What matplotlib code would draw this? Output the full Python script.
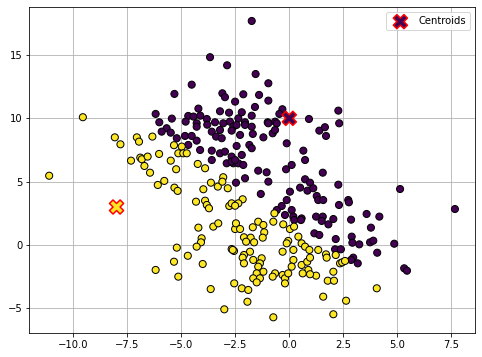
import numpy as np
import matplotlib
matplotlib.use('Agg')
import matplotlib.pyplot as plt

# cluster 0 (purple)
x_c0 = [-3.67, -2.88, -4.52, -5.32, -3.10, -2.98, -2.51, -6.19, -4.21, -3.21, -2.79, -5.44, -4.68, -4.44,
        -4.12, -3.82, -6.02, -4.80, -4.29, -3.44, -2.75,
        -1.74, -1.56, -0.97, -2.13, -1.40, -0.97, -1.59, -2.20, -1.74, -0.32, -0.46, 0.91, -2.36, -2.05,
        -1.00, -0.66,
        -5.68, -5.91, -5.49, -5.21, -4.83, -4.52, -4.29, -4.68, -4.29, -4.13, -3.80, -3.59, -3.21, -3.39,
        -3.06, -3.13, -3.59, -3.21, -2.98, -2.67, -3.59, -2.90, -2.59, -2.59,
        -2.67, -2.28, -2.44, -2.05, -1.74, -1.69, -1.20, -0.97, -0.58, -0.77, -0.66, 1.39, 1.65, 1.70,
        -0.12, -2.44, -1.85, -1.74, 0.65, -2.20, -2.67, -2.36, -2.13, -2.51, 0.73, 0.11, -0.15, 1.55,
        -1.44, -1.05, -2.05, -0.97, -2.47, 0.73, 0.96, 0.50, 0.84, 1.11, 0.03, -1.32, 1.27, 1.34, 1.57,
        -0.12, -0.35, -0.58, 0.11, 0.19, 0.57, 1.24, 1.55,
        -0.20, 0.23, 0.54, 1.50, 1.81, 1.16, 1.39,
        2.27, 2.31, 2.27, 5.13, 2.73,
        2.30, 2.76, 7.67, 2.04, 2.86, 3.58, 4.17, 3.78, 2.15, 2.89, 2.92, 3.24, 3.74, 3.89, 4.86, 2.12,
        2.39, 4.07, 2.96, 2.86, 3.17, 5.32, 5.45]
y_c0 = [14.83, 14.19, 12.66, 11.93, 11.98, 11.67, 11.32, 10.35, 10.77, 10.56, 10.45, 9.98, 10.19, 10.14,
        10.21, 9.95, 9.69, 9.74, 9.61, 9.69, 9.74,
        17.69, 13.50, 12.77, 11.90, 11.85, 11.40, 10.90, 10.48, 10.21, 10.72, 10.35, 9.95, 10.00, 9.69,
        9.69, 9.74,
        9.22, 8.95, 8.87, 8.43, 8.61, 8.61, 9.34, 7.90, 8.24, 7.50, 9.50, 8.95, 9.08, 8.56,
        9.61, 8.43, 7.45, 7.24, 7.37, 6.98, 6.71, 6.45, 6.45, 9.34,
        9.03, 8.69, 9.48, 9.48, 9.34, 8.77, 8.50, 9.61, 9.61, 8.82, 9.08, 9.03, 9.30, 8.61,
        8.03, 7.82, 7.90, 7.64, 7.45, 7.11, 6.58, 6.45, 6.32, 6.71, 6.71, 6.32, 5.98, 5.71,
        5.87, 5.74, 5.27, 5.00, 4.92, 5.19, 4.92, 4.53, 4.29, 4.48, 4.21, 4.03, 3.87, 3.55, 3.55,
        3.55, 3.08, 2.76, 2.76, 2.24, 2.10, 2.24, 2.24,
        2.37, 1.97, 1.97, 1.90, 1.63, 0.92, 0.79,
        10.61, 9.61, 4.76, 4.42, 3.55,
        3.16, 3.37, 2.84, 2.05, 2.00, 2.45, 2.24, 1.37, 0.47, 0.66, 0.18, 0.05, 0.21, 0.34, 0.10, -0.34,
        -0.34, -0.61, -1.00, -1.18, -1.45, -1.84, -2.03]

# cluster 1 (yellow)
x_c1 = [-9.56, -8.08, -7.82, -7.06, -6.96, -7.33, -6.90, -11.12,
        -6.34, -6.83, -6.56, -6.71, -6.45, -6.03, -5.34, -4.98, -5.14, -4.91, -4.75, -5.49, -5.24, -4.24,
        -3.90, -6.09, -5.79, -5.32, -5.17, -3.98, -3.63, -3.31, -3.06, -3.10, -2.85, -4.32, -3.90, -3.82,
        -3.72, -2.78, -2.67, -2.16, -2.36, -2.51,
        -4.21, -3.52, -3.29, -2.51, -4.06, -4.09, -4.29, -5.21, -2.67, -2.56, -4.70, -5.34, -4.01, -6.19,
        -5.14, -3.64, -2.55, -3.01,
        -2.47, -2.28, -1.44, -1.69, -1.20, -1.16, -1.23, -2.10, -1.79, -2.00, -1.63, -0.74, -0.28, 0.03,
        0.22, 0.42, -0.05, -0.12, 0.57, 0.73, 0.93, 1.34, 0.19, -0.31, -2.62, -1.82, -2.10, -2.16, -2.10,
        -1.67, -1.28, -1.36, -1.44, 0.19, 0.11, 0.57, 0.83, 0.96, 0.88, 0.62, 1.24, 0.96, -1.20, -1.51,
        -1.67, -1.36, -1.51, -0.66, -0.77, -0.31, -0.20, -0.20, -0.05, -2.20, -1.90, -1.94, -0.74, 1.57,
        -0.69,
        1.70, 1.73, 2.15, 2.35, 2.45, 2.58, 2.04, 1.78, 2.07, 4.05, 2.63, 2.04]
y_c1 = [10.09, 8.50, 7.95, 8.50, 8.16, 6.66, 6.90, 5.47,
        8.56, 6.77, 6.98, 6.24, 5.71, 7.19, 7.88, 7.77, 7.24, 7.24, 7.24, 6.66, 5.98, 6.40,
        6.06, 4.74, 5.06, 4.53, 4.27, 4.40, 4.92, 4.61, 5.35, 5.00, 4.48, 3.42, 3.50, 3.16,
        2.90, 3.08, 3.29, 3.61, 3.29, 3.10,
        1.37, 1.45, 1.71, 1.26, 0.53, 0.21, -0.13, -0.21, -0.32, -0.47, -0.85, -1.32, -1.50, -1.97,
        -2.50, -3.48, -3.03, -5.08,
        1.71, 1.26, 1.84, 1.40, 1.58, 1.00, 0.58, 0.61, 0.58, 0.26, 0.21, 1.84, 1.63, 1.26,
        1.45, 0.66, 0.32, 0.13, 0.13, -0.13, -0.39, -0.39, -0.39, -0.53, -0.39, -0.53, -0.79, -1.00, -1.45,
        -1.18, -1.05, -1.45, -1.71, -1.18, -1.71, -1.58, -1.32, -1.00, -1.97, -2.24, -2.42, -2.31, -2.11, -2.24,
        -2.63, -2.63, -2.95, -2.24, -2.50, -2.37, -2.63, -3.03, -2.24, -3.42, -3.55, -4.48, -5.71, -4.08,
        2.50,
        -0.74, -1.00, -0.79, -1.45, -1.37, -1.26, -2.11, -2.82, -2.82, -3.42, -4.40, -5.47]

centroid_x = [0.0, -8.0]
centroid_y = [10.0, 3.0]

X = np.array(x_c0 + x_c1)
Y = np.array(y_c0 + y_c1)
labels = np.array([0] * len(x_c0) + [1] * len(x_c1))

fig = plt.figure(figsize=(482 / 72, 357 / 72), dpi=72)
ax = fig.add_axes([0.0608, 0.0672, 0.9247, 0.9124])
ax.scatter(X, Y, c=labels, cmap='viridis', s=50, edgecolors='k', vmin=0, vmax=1)
ax.scatter(centroid_x, centroid_y, c=[0, 1], cmap='viridis', marker='X', s=200,
           edgecolors='red', linewidths=1.5, vmin=0, vmax=1, label='Centroids')
ax.set_xlim(-12.04, 8.6)
ax.set_ylim(-6.95, 18.77)
ax.grid(True)
ax.set_axisbelow(True)
ax.legend(loc='upper right')

fig.savefig('out.png', dpi=72)
